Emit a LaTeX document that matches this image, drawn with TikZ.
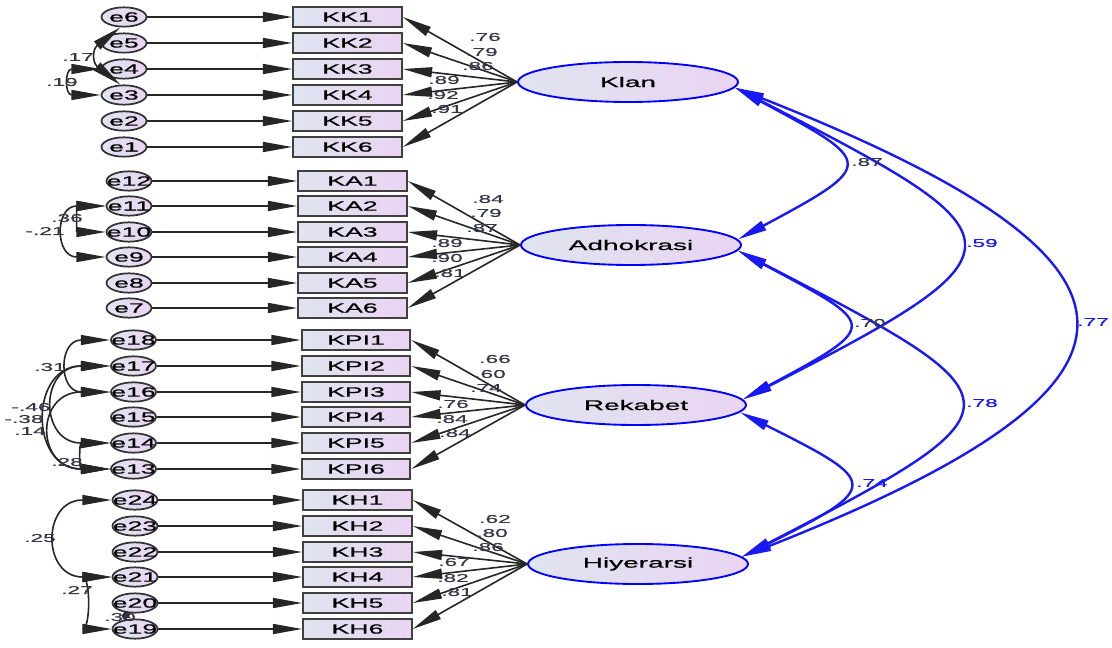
\documentclass[tikz,border=0pt]{standalone}
\usepackage{fontspec}
\setmainfont{Liberation Sans}[FakeStretch=2.0,FakeBold=0.8]
\usetikzlibrary{shapes.geometric,arrows.meta}
\definecolor{fillL}{RGB}{224,228,240}
\definecolor{fillR}{RGB}{234,212,242}
\definecolor{covblue}{RGB}{25,25,245}
\definecolor{lblgray}{RGB}{55,55,75}
\begin{document}
\begin{tikzpicture}[x=0.75pt,y=-0.75pt,font=\fontsize{10}{12}\selectfont]
    \tikzstyle{every node}+=[inner sep=0pt]
    \tikzstyle{err}=[ellipse, draw=black!80, line width=1.3pt, left color=fillL, right color=fillR, minimum width=33.75pt, minimum height=14.5pt]
    \tikzstyle{obs}=[rectangle, draw=black!75, line width=1.4pt, left color=fillL, right color=fillR, minimum width=81.5pt, minimum height=15pt]
    \tikzstyle{lat}=[ellipse, draw=blue, line width=1.4pt, left color=fillL, right color=fillR, minimum width=165pt, minimum height=30pt, font=\fontsize{10.5}{12}\selectfont]
    \tikzstyle{wt}=[font=\fontsize{8.5}{10}\selectfont, text=lblgray]
    \tikzstyle{bwt}=[font=\fontsize{8.5}{10}\selectfont, text=covblue]
    \tikzstyle{pth}=[draw=black!85, line width=1.2pt, -{Triangle[length=22pt,width=7.5pt]}]
    \tikzstyle{cov}=[draw=black!85, line width=1.2pt, {Triangle[length=22pt,width=7.5pt]}-{Triangle[length=22pt,width=7.5pt]}]
    \tikzstyle{covs}=[draw=black!85, line width=1.2pt, {Triangle[length=7pt,width=4pt]}-{Triangle[length=7pt,width=4pt]}]
    \tikzstyle{bcov}=[draw=covblue, line width=1.8pt, {Triangle[length=22pt,width=7.5pt]}-{Triangle[length=22pt,width=7.5pt]}]
    \useasboundingbox (0,0) rectangle (1112,648);
    % latent factors
    \node [lat] (Klan) at (628,82) {Klan};
    \node [lat] (Adho) at (631,245) {Adhokrasi};
    \node [lat] (Rek) at (636,405) {Rekabet};
    \node [lat] (Hiy) at (638,564) {Hiyerarsi};
    % Klan block
    \node [obs] (KK1) at (347.5,17) {KK1};
    \node [obs] (KK2) at (347.5,43) {KK2};
    \node [obs] (KK3) at (347.5,69) {KK3};
    \node [obs] (KK4) at (347.5,95) {KK4};
    \node [obs] (KK5) at (347.5,121) {KK5};
    \node [obs] (KK6) at (347.5,147) {KK6};
    \node [err, label=center:e6] (e6) at (124,17) {};
    \node [err, label=center:e5] (e5) at (124,43) {};
    \node [err, label=center:e4] (e4) at (124,69) {};
    \node [err, label=center:e3] (e3) at (124,95) {};
    \node [err, label=center:e2] (e2) at (124,121) {};
    \node [err, label=center:e1] (e1) at (124,147) {};
    \draw [pth] (e6) -- (KK1);
    \draw [pth] (e5) -- (KK2);
    \draw [pth] (e4) -- (KK3);
    \draw [pth] (e3) -- (KK4);
    \draw [pth] (e2) -- (KK5);
    \draw [pth] (e1) -- (KK6);
    \draw [pth] (Klan.west) -- (KK1.east);
    \draw [pth] (Klan.west) -- (KK2.east);
    \draw [pth] (Klan.west) -- (KK3.east);
    \draw [pth] (Klan.west) -- (KK4.east);
    \draw [pth] (Klan.west) -- (KK5.east);
    \draw [pth] (Klan.west) -- (KK6.east);
    \node [wt] (lKK1) at (485,37) {.76};
    \node [wt] (lKK2) at (482,52) {.79};
    \node [wt] (lKK3) at (478,66) {.86};
    \node [wt] (lKK4) at (444,80) {.89};
    \node [wt] (lKK5) at (443,95) {.92};
    \node [wt] (lKK6) at (447,109) {.91};
    \draw [cov] (e6.250) .. controls +(-28,22) and +(-28,-22) .. (e3.110);
    \draw [cov] (e4.west) .. controls +(-36,0) and +(-36,0) .. (e3.west);
    \node [wt] (c17) at (78,57) {.17};
    \node [wt] (c19) at (62,82) {.19};
    % Adhokrasi block
    \node [obs] (KA1) at (352.5,181) {KA1};
    \node [obs] (KA2) at (352.5,206) {KA2};
    \node [obs] (KA3) at (352.5,232) {KA3};
    \node [obs] (KA4) at (352.5,257) {KA4};
    \node [obs] (KA5) at (352.5,283) {KA5};
    \node [obs] (KA6) at (352.5,308) {KA6};
    \node [err, label=center:e12] (e12) at (129,181) {};
    \node [err, label=center:e11] (e11) at (129,206) {};
    \node [err, label=center:e10] (e10) at (129,232) {};
    \node [err, label=center:e9] (e9) at (129,257) {};
    \node [err, label=center:e8] (e8) at (129,283) {};
    \node [err, label=center:e7] (e7) at (129,308) {};
    \draw [pth] (e12) -- (KA1);
    \draw [pth] (e11) -- (KA2);
    \draw [pth] (e10) -- (KA3);
    \draw [pth] (e9) -- (KA4);
    \draw [pth] (e8) -- (KA5);
    \draw [pth] (e7) -- (KA6);
    \draw [pth] (Adho.west) -- (KA1.east);
    \draw [pth] (Adho.west) -- (KA2.east);
    \draw [pth] (Adho.west) -- (KA3.east);
    \draw [pth] (Adho.west) -- (KA4.east);
    \draw [pth] (Adho.west) -- (KA5.east);
    \draw [pth] (Adho.west) -- (KA6.east);
    \node [wt] (lKA1) at (488,199) {.84};
    \node [wt] (lKA2) at (486,213) {.79};
    \node [wt] (lKA3) at (482,228) {.87};
    \node [wt] (lKA4) at (447,243) {.89};
    \node [wt] (lKA5) at (447,258) {.90};
    \node [wt] (lKA6) at (450,273) {.81};
    \draw [cov] (e11.west) .. controls +(-29,0) and +(-29,0) .. (e10.west);
    \draw [cov] (e11.west) .. controls +(-51,0) and +(-51,0) .. (e9.west);
    \node [wt] (c36) at (67,218) {.36};
    \node [wt] (c21) at (45,231) {-.21};
    % Rekabet block
    \node [obs] (KPI1) at (356,340) {KPI1};
    \node [obs] (KPI2) at (356,366) {KPI2};
    \node [obs] (KPI3) at (356,392) {KPI3};
    \node [obs] (KPI4) at (356,417) {KPI4};
    \node [obs] (KPI5) at (356,443) {KPI5};
    \node [obs] (KPI6) at (356,469) {KPI6};
    \node [err, label=center:e18] (e18) at (133.5,340) {};
    \node [err, label=center:e17] (e17) at (133.5,366) {};
    \node [err, label=center:e16] (e16) at (133.5,392) {};
    \node [err, label=center:e15] (e15) at (133.5,417) {};
    \node [err, label=center:e14] (e14) at (133.5,443) {};
    \node [err, label=center:e13] (e13) at (133.5,469) {};
    \draw [pth] (e18) -- (KPI1);
    \draw [pth] (e17) -- (KPI2);
    \draw [pth] (e16) -- (KPI3);
    \draw [pth] (e15) -- (KPI4);
    \draw [pth] (e14) -- (KPI5);
    \draw [pth] (e13) -- (KPI6);
    \draw [pth] (Rek.west) -- (KPI1.east);
    \draw [pth] (Rek.west) -- (KPI2.east);
    \draw [pth] (Rek.west) -- (KPI3.east);
    \draw [pth] (Rek.west) -- (KPI4.east);
    \draw [pth] (Rek.west) -- (KPI5.east);
    \draw [pth] (Rek.west) -- (KPI6.east);
    \node [wt] (lKPI1) at (495,359) {.66};
    \node [wt] (lKPI2) at (490,374) {.60};
    \node [wt] (lKPI3) at (486,388) {.74};
    \node [wt] (lKPI4) at (453,404) {.76};
    \node [wt] (lKPI5) at (452,419) {.84};
    \node [wt] (lKPI6) at (455,433) {.84};
    \draw [cov] (e18.west) .. controls +(-52,0) and +(-52,0) .. (e16.west);
    \draw [cov] (e17.west) .. controls +(-71,0) and +(-71,0) .. (e14.west);
    \draw [cov] (e17.west) .. controls +(-81,0) and +(-81,0) .. (e13.west);
    \draw [cov] (e16.west) .. controls +(-75,0) and +(-75,0) .. (e13.west);
    \draw [cov] (e14.west) .. controls +(-31,0) and +(-31,0) .. (e13.west);
    \node [wt] (c31) at (50,367) {.31};
    \node [wt] (c46) at (31,407) {-.46};
    \node [wt] (c38) at (24,419) {-.38};
    \node [wt] (c14) at (30,431) {.14};
    \node [wt] (c28) at (67,462) {.28};
    % Hiyerarsi block
    \node [obs] (KH1) at (357.5,500) {KH1};
    \node [obs] (KH2) at (357.5,526) {KH2};
    \node [obs] (KH3) at (357.5,552) {KH3};
    \node [obs] (KH4) at (357.5,577) {KH4};
    \node [obs] (KH5) at (357.5,603) {KH5};
    \node [obs] (KH6) at (357.5,629) {KH6};
    \node [err, label=center:e24] (e24) at (135,500) {};
    \node [err, label=center:e23] (e23) at (135,526) {};
    \node [err, label=center:e22] (e22) at (135,552) {};
    \node [err, label=center:e21] (e21) at (135,577) {};
    \node [err, label=center:e20] (e20) at (135,603) {};
    \node [err, label=center:e19] (e19) at (135,629) {};
    \draw [pth] (e24) -- (KH1);
    \draw [pth] (e23) -- (KH2);
    \draw [pth] (e22) -- (KH3);
    \draw [pth] (e21) -- (KH4);
    \draw [pth] (e20) -- (KH5);
    \draw [pth] (e19) -- (KH6);
    \draw [pth] (Hiy.west) -- (KH1.east);
    \draw [pth] (Hiy.west) -- (KH2.east);
    \draw [pth] (Hiy.west) -- (KH3.east);
    \draw [pth] (Hiy.west) -- (KH4.east);
    \draw [pth] (Hiy.west) -- (KH5.east);
    \draw [pth] (Hiy.west) -- (KH6.east);
    \node [wt] (lKH1) at (495,519) {.62};
    \node [wt] (lKH2) at (492,533) {.80};
    \node [wt] (lKH3) at (488,547) {.86};
    \node [wt] (lKH4) at (454,562) {.67};
    \node [wt] (lKH5) at (453,578) {.82};
    \node [wt] (lKH6) at (457,592) {.81};
    \draw [cov] (e24.west) .. controls +(-70,0) and +(-70,0) .. (e21.west);
    \draw [cov] (e21.west) .. controls +(-21,0) and +(-21,0) .. (e19.west);
    \draw [covs] (e20.250) .. controls +(-8,5) and +(-8,-5) .. (e19.110);
    \node [wt] (c25) at (40,538) {.25};
    \node [wt] (c27) at (77,590) {.27};
    \node [wt] (c30) at (120,617) {.30};
    % factor covariances
    \draw [bcov] (Klan.-3) .. controls +(140,75) and +(140,-75) .. (Adho.3);
    \draw [bcov] (Klan.-3) .. controls +(293,150) and +(293,-150) .. (Rek.3);
    \draw [bcov] (Klan.-3) .. controls +(443,175) and +(443,-175) .. (Hiy.4);
    \draw [bcov] (Adho.-3) .. controls +(140,75) and +(140,-75) .. (Rek.3);
    \draw [bcov] (Adho.-3) .. controls +(290,150) and +(290,-150) .. (Hiy.4);
    \draw [bcov] (Rek.-4) .. controls +(140,70) and +(140,-70) .. (Hiy.4);
    \node [wt] (f87) at (867,162) {.87};
    \node [bwt] (f59) at (982,243) {.59};
    \node [bwt] (f77) at (1093,322) {.77};
    \node [wt] (f70) at (870,323) {.70};
    \node [bwt] (f78) at (982,403) {.78};
    \node [bwt] (f74) at (872,483) {.74};
\end{tikzpicture}
\end{document}
